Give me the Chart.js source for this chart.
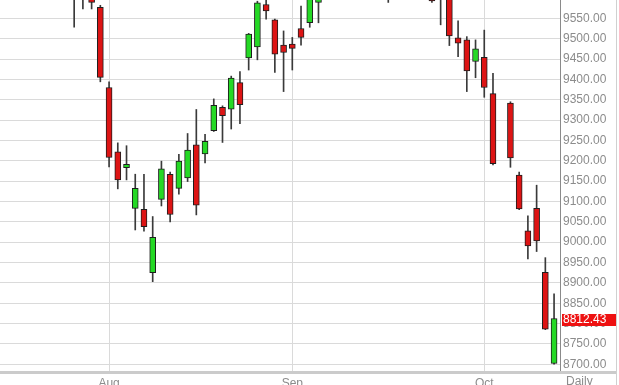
<!DOCTYPE html>
<html lang="en">
<head>
    <meta charset="UTF-8">
    <title>Daily Candles</title>
    <script src="https://cdn.jsdelivr.net/npm/chart.js"></script>
    <style>
        html, body { margin: 0; padding: 0; background: #fff; overflow: hidden; }
        #wrap { width: 619px; height: 385px; }
    </style>
</head>
<body>
<div id="wrap"><canvas id="priceChart" width="619" height="385"></canvas></div>
<script>
    // one slot per trading day, Oct 3 left empty
    const days = [
        'Jul 16', 'Jul 17', 'Jul 18', 'Jul 21', 'Jul 22', 'Jul 23', 'Jul 24', 'Jul 25', 'Jul 28', 'Jul 29', 'Jul 30', 'Jul 31',
        'Aug 1', 'Aug 4', 'Aug 5', 'Aug 6', 'Aug 7', 'Aug 8', 'Aug 11', 'Aug 12', 'Aug 13', 'Aug 14', 'Aug 15',
        'Aug 18', 'Aug 19', 'Aug 20', 'Aug 21', 'Aug 22', 'Aug 25', 'Aug 26', 'Aug 27', 'Aug 28', 'Aug 29',
        'Sep 1', 'Sep 2', 'Sep 3', 'Sep 4', 'Sep 5', 'Sep 8', 'Sep 9', 'Sep 10', 'Sep 11', 'Sep 12', 'Sep 15',
        'Sep 16', 'Sep 17', 'Sep 18', 'Sep 19', 'Sep 22', 'Sep 23', 'Sep 24', 'Sep 25', 'Sep 26', 'Sep 29', 'Sep 30',
        'Oct 1', 'Oct 2', 'Oct 3', 'Oct 6', 'Oct 7', 'Oct 8', 'Oct 9', 'Oct 10', 'Oct 13'
    ];
    const opens = [
        9776, 9843, 9672, 9654, 9647, 9735, 9775, 9757, 9640, 9609, 9641, 9577,
        9380, 9222, 9183, 9083, 9081, 8925, 9105, 9167, 9132, 9158, 9239,
        9217, 9274, 9331, 9327, 9392, 9453, 9480, 9584, 9546, 9484,
        9487, 9525, 9539, 9589, 9710, 9780, 9760, 9690, 9680, 9700, 9640,
        9620, 9665, 9700, 9830, 9760, 9680, 9600, 9650, 9502, 9497, 9444,
        9454, 9365, null, 9342, 9165, 9028, 9083, 8926, 8702
    ];
    const highs = [
        9873, 9858, 9755, 9662, 9744, 9763, 9812, 9760, 9661, 9660, 9653, 9582,
        9394, 9244, 9237, 9167, 9167, 9063, 9199, 9172, 9216, 9267, 9326,
        9265, 9352, 9335, 9408, 9419, 9513, 9592, 9600, 9548, 9519,
        9503, 9580, 9660, 9740, 9770, 9800, 9770, 9720, 9710, 9750, 9665,
        9665, 9700, 9810, 9890, 9780, 9700, 9670, 9680, 9544, 9505, 9497,
        9521, 9415, null, 9345, 9172, 9065, 9140, 8962, 8873
    ];
    const lows = [
        9760, 9700, 9665, 9604, 9647, 9707, 9765, 9634, 9528, 9573, 9573, 9394,
        9185, 9131, 9153, 9030, 9027, 8903, 9089, 9050, 9118, 9149, 9067,
        9195, 9272, 9245, 9278, 9291, 9423, 9448, 9548, 9417, 9370,
        9423, 9484, 9528, 9539, 9660, 9740, 9680, 9640, 9630, 9640, 9610,
        9589, 9650, 9690, 9780, 9720, 9589, 9534, 9483, 9456, 9370, 9404,
        9356, 9190, null, 9184, 9080, 8959, 8977, 8785, 8700
    ];
    const closes = [
        9859, 9753, 9720, 9612, 9734, 9753, 9797, 9644, 9598, 9653, 9589, 9405,
        9208, 9153, 9191, 9132, 9038, 9012, 9180, 9068, 9199, 9226, 9091,
        9248, 9336, 9311, 9403, 9338, 9511, 9588, 9568, 9462, 9466,
        9476, 9503, 9626, 9724, 9758, 9758, 9686, 9700, 9691, 9651, 9634,
        9661, 9661, 9799, 9799, 9749, 9593, 9662, 9507, 9489, 9421, 9475,
        9380, 9193, null, 9207, 9082, 8991, 9003, 8786, 8812.43
    ];

    const monthTicks = [12, 33, 55];
    const monthLabels = ['Aug', 'Sep', 'Oct'];
    const priceTicks = [8700, 8750, 8800, 8850, 8900, 8950, 9000, 9050, 9100, 9150,
                        9200, 9250, 9300, 9350, 9400, 9450, 9500, 9550];
    const lastPrice = closes[closes.length - 1];

    const upColor = '#25d925';
    const downColor = '#dd1414';
    const labelFont = { family: "'Liberation Sans', Arial, sans-serif", size: 12 };

    const bodies = days.map((d, i) => ({ x: i, y: opens[i] === null ? null : [opens[i], closes[i]] }))
        .filter(p => p.y !== null);
    const wicks = days.map((d, i) => ({ x: i, y: lows[i] === null ? null : [lows[i], highs[i]] }))
        .filter(p => p.y !== null);

    const extras = {
        id: 'extras',
        afterDraw(chart) {
            const ctx = chart.ctx;
            const yScale = chart.scales.y;
            ctx.save();
            // bottom rule and right frame
            ctx.fillStyle = '#cbcbcb';
            ctx.fillRect(0, 371, 616, 3);
            ctx.fillStyle = '#d0d0d0';
            ctx.fillRect(616, 0, 1, 385);

            // last price marker
            const py = Math.round(yScale.getPixelForValue(lastPrice));
            ctx.fillStyle = '#ee1111';
            ctx.fillRect(562, py - 5, 54, 12);
            ctx.fillStyle = '#ffffff';
            ctx.font = "12px 'Liberation Sans', Arial, sans-serif";
            ctx.textBaseline = 'middle';
            ctx.textAlign = 'left';
            ctx.fillText(lastPrice.toFixed(2), 563, py + 1);

            ctx.fillStyle = '#8c8c8c';
            ctx.textBaseline = 'top';
            ctx.fillText('Daily', 566, 376);
            ctx.restore();
        }
    };

    new Chart(document.getElementById('priceChart'), {
        type: 'bar',
        data: {
            datasets: [{
                label: 'Body',
                data: bodies,
                grouped: false,
                barThickness: 6,
                borderWidth: 1,
                borderColor: '#1e1e1e',
                borderSkipped: false,
                backgroundColor: c => (c.raw && c.raw.y[1] >= c.raw.y[0]) ? upColor : downColor,
                clip: 0
            }, {
                label: 'Wick',
                data: wicks,
                grouped: false,
                barThickness: 1,
                borderWidth: 0,
                backgroundColor: '#3a3a3a',
                clip: 0
            }]
        },
        options: {
            responsive: false,
            animation: false,
            layout: { padding: 0 },
            plugins: {
                legend: { display: false },
                tooltip: { enabled: false }
            },
            scales: {
                x: {
                    type: 'linear',
                    min: -0.5,
                    max: 63.68,
                    offset: false,
                    afterBuildTicks: s => { s.ticks = monthTicks.map(v => ({ value: v })); },
                    afterFit: s => { s.height = 14; s.paddingLeft = 0; s.paddingRight = 0; },
                    grid: { color: '#dadada', drawTicks: false, offset: false },
                    border: { display: false },
                    ticks: {
                        color: '#8c8c8c',
                        padding: 5,
                        font: labelFont,
                        maxRotation: 0,
                        autoSkip: false,
                        callback: v => monthLabels[monthTicks.indexOf(v)]
                    }
                },
                y: {
                    position: 'right',
                    min: 8683.5,
                    max: 9595,
                    afterBuildTicks: s => { s.ticks = priceTicks.map(v => ({ value: v })); },
                    afterFit: s => { s.width = 59; s.paddingTop = 0; s.paddingBottom = 0; },
                    grid: { color: '#dadada', drawTicks: false },
                    border: { color: '#8a8a8a', width: 1 },
                    ticks: {
                        color: '#8c8c8c',
                        padding: 3,
                        font: labelFont,
                        callback: v => v.toFixed(2)
                    }
                }
            }
        },
        plugins: [extras]
    });
</script>
</body>
</html>
